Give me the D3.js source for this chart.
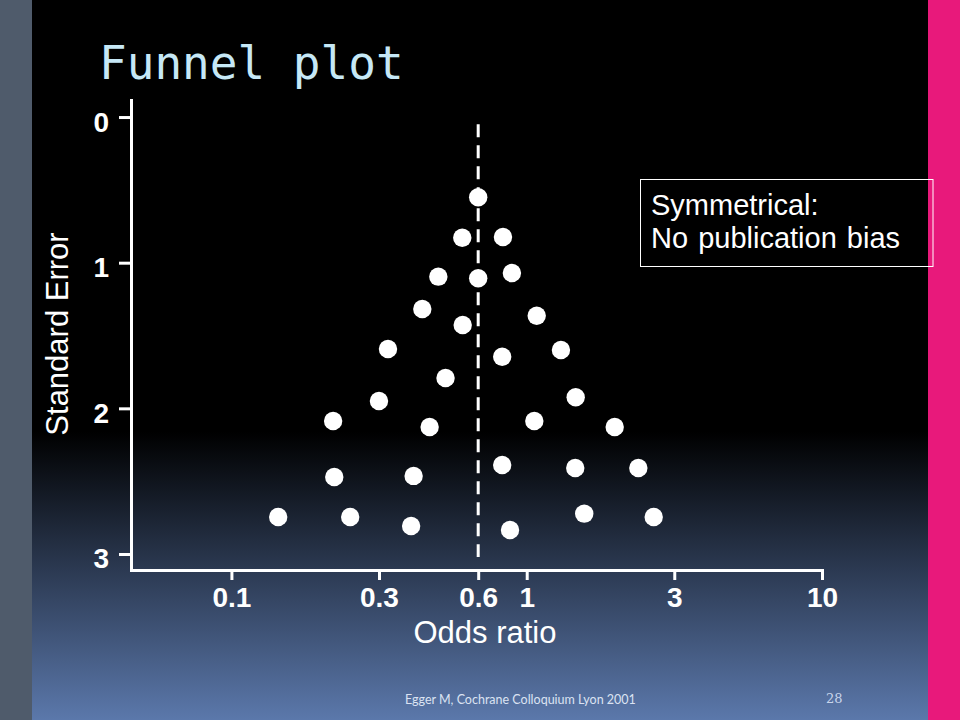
<!DOCTYPE html>
<html>
<head>
<meta charset="utf-8">
<script src="https://cdn.jsdelivr.net/npm/d3@7"></script>
<style>
  html, body { margin: 0; padding: 0; background: #000; }
  svg { display: block; }
</style>
</head>
<body>
<svg id="chart" width="960" height="720"></svg>
<script>
// ---- Data ----
const oddsRatio = [0.685, 0.605, 0.831, 0.502, 0.685, 0.891, 0.443, 0.607, 1.081, 0.339,
                   0.531, 0.316, 0.221, 0.469, 0.826, 1.306, 1.465, 1.061, 1.986, 0.223,
                   0.414, 0.826, 1.460, 2.388, 0.144, 0.2525, 0.406, 0.878, 1.566, 2.692];
const standardError = [0.551, 0.829, 0.824, 1.096, 1.107, 1.071, 1.318, 1.428, 1.364, 1.593,
                       1.792, 1.950, 2.087, 2.128, 1.646, 1.600, 1.924, 2.087, 2.128, 2.471,
                       2.464, 2.389, 2.410, 2.410, 2.746, 2.746, 2.808, 2.835, 2.723, 2.746];
const pooledOR = 0.685;
const pooledLineSE = [0.05, 3.02];
const xTickValues = [0.1, 0.316, 0.685, 1, 3.16, 10];
const xTickLabels = ["0.1", "0.3", "0.6", "1", "3", "10"];
const yTickValues = [0, 1, 2, 3];
const titleText = "Funnel plot";
const xLabel = "Odds ratio";
const yLabel = "Standard Error";
const noteLines = ["Symmetrical:", "No publication bias"];
const footerText = "Egger M, Cochrane Colloquium Lyon 2001";
const pageNumber = "28";

// ---- Drawing ----
const svg = d3.select("#chart");
const W = 960, H = 720;

const defs = svg.append("defs");
const grad = defs.append("linearGradient")
  .attr("id", "bg").attr("x1", 0).attr("y1", 0).attr("x2", 0).attr("y2", 1);
grad.append("stop").attr("offset", 0).attr("stop-color", "#000000");
grad.append("stop").attr("offset", 0.6).attr("stop-color", "#000000");
grad.append("stop").attr("offset", 1).attr("stop-color", "#5b78ab");

svg.append("rect").attr("x", 0).attr("y", 0).attr("width", W).attr("height", H)
  .attr("fill", "url(#bg)");
svg.append("rect").attr("x", 0).attr("y", 0).attr("width", 32).attr("height", H)
  .attr("fill", "#4f5b6b");
svg.append("rect").attr("x", 928).attr("y", 0).attr("width", 32).attr("height", H)
  .attr("fill", "#e8197b");

// Title
svg.append("text")
  .attr("x", 99).attr("y", 79)
  .attr("font-family", "'DejaVu Sans Mono', 'Liberation Mono', monospace")
  .attr("font-size", 46)
  .attr("fill", "#c6e8f6")
  .text(titleText);

// Scales
const x = d3.scaleLog().domain([0.0457, 10]).range([131, 822]);
const y = d3.scaleLinear().domain([-0.117, 3.11]).range([100, 570]);

const axisFont = "'Liberation Sans', Arial, sans-serif";

// Y axis
const yAxis = svg.append("g")
  .attr("transform", `translate(${x.range()[0]},0)`)
  .call(d3.axisLeft(y).tickValues(yTickValues).tickFormat(d3.format("d"))
        .tickSize(12).tickSizeOuter(0).tickPadding(10));

// X axis
const xAxis = svg.append("g")
  .attr("transform", `translate(0,${y.range()[1]})`)
  .call(d3.axisBottom(x).tickValues(xTickValues)
        .tickFormat((d, i) => xTickLabels[i])
        .tickSize(10).tickSizeOuter(0).tickPadding(10));

[yAxis, xAxis].forEach(g => {
  g.select(".domain").attr("stroke", "#fff").attr("stroke-width", 3)
    .attr("stroke-linecap", "square");
  g.selectAll(".tick line").attr("stroke", "#fff").attr("stroke-width", 3);
  g.selectAll(".tick text")
    .attr("fill", "#fff")
    .attr("font-family", axisFont)
    .attr("font-weight", "bold")
    .attr("font-size", 28);
});
yAxis.selectAll(".tick text").attr("dy", "14px");
xAxis.selectAll(".tick text").attr("dy", "0").attr("y", 37);

// Axis titles
svg.append("text")
  .attr("transform", `translate(68,334) rotate(-90)`)
  .attr("text-anchor", "middle")
  .attr("font-family", axisFont)
  .attr("font-size", 31)
  .attr("fill", "#fff")
  .text(yLabel);

svg.append("text")
  .attr("x", 485).attr("y", 643)
  .attr("text-anchor", "middle")
  .attr("font-family", axisFont)
  .attr("font-size", 31)
  .attr("fill", "#fff")
  .text(xLabel);

// Pooled estimate dashed line
svg.append("line")
  .attr("x1", x(pooledOR)).attr("x2", x(pooledOR))
  .attr("y1", y(pooledLineSE[0])).attr("y2", y(pooledLineSE[1]))
  .attr("stroke", "#fff").attr("stroke-width", 3)
  .attr("stroke-dasharray", "13 8");

// Points
svg.append("g").selectAll("circle")
  .data(oddsRatio.map((d, i) => ({ or: d, se: standardError[i] })))
  .join("circle")
  .attr("cx", d => x(d.or))
  .attr("cy", d => y(d.se))
  .attr("r", 9.2)
  .attr("fill", "#fff");

// Note box
svg.append("rect")
  .attr("x", 640.5).attr("y", 179.5).attr("width", 292.5).attr("height", 87)
  .attr("fill", "none").attr("stroke", "#fff").attr("stroke-width", 1);
svg.append("text")
  .attr("font-family", axisFont)
  .attr("font-size", 29)
  .attr("fill", "#fff")
  .attr("word-spacing", 2)
  .selectAll("tspan")
  .data(noteLines)
  .join("tspan")
  .attr("x", 651)
  .attr("y", (d, i) => 215 + i * 32.6)
  .text(d => d);

// Footer
svg.append("text")
  .attr("x", 405).attr("y", 704)
  .attr("font-family", "Lato, 'Open Sans', sans-serif")
  .attr("font-size", 12.5)
  .attr("fill", "#dbe3f2")
  .text(footerText);
svg.append("text")
  .attr("x", 826).attr("y", 703)
  .attr("font-family", "'DejaVu Serif', serif")
  .attr("font-size", 13)
  .attr("fill", "#c9d5eb")
  .text(pageNumber);
</script>
</body>
</html>
